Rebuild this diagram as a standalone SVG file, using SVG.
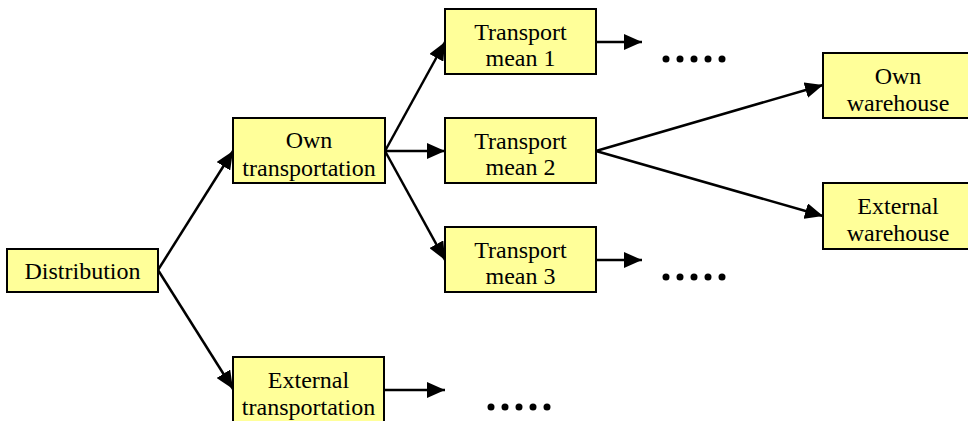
<svg xmlns="http://www.w3.org/2000/svg" width="968" height="421" viewBox="0 0 968 421">
  <style>
    .box { fill: #FFFF99; stroke: #000; stroke-width: 2; }
    .lbl { font-family: "Liberation Serif", "Times New Roman", serif; font-size: 24px; fill: #000; text-anchor: middle; }
    .edge { stroke: #000; stroke-width: 2.5; fill: none; marker-end: url(#head); }
    .dot { fill: #000; }
  </style>
  <defs>
    <marker id="head" markerUnits="userSpaceOnUse" viewBox="0 0 18 16" markerWidth="18" markerHeight="16" refX="18" refY="8" orient="auto">
      <path d="M0,0 L18,8 L0,16 Z" fill="#000"/>
    </marker>
    <g id="dots">
      <circle class="dot" cx="0" cy="0" r="3.5"/>
      <circle class="dot" cx="14" cy="0" r="3.5"/>
      <circle class="dot" cx="28" cy="0" r="3.5"/>
      <circle class="dot" cx="42" cy="0" r="3.5"/>
      <circle class="dot" cx="56" cy="0" r="3.5"/>
    </g>
  </defs>

  <rect width="968" height="421" fill="#fff"/>

  <!-- connectors -->
  <g id="connectors">
    <line class="edge" x1="158" y1="270" x2="233" y2="151"/>
    <line class="edge" x1="158" y1="270" x2="233" y2="389"/>
    <line class="edge" x1="385" y1="151" x2="445" y2="42"/>
    <line class="edge" x1="385" y1="151" x2="445" y2="151"/>
    <line class="edge" x1="385" y1="151" x2="445" y2="260"/>
    <line class="edge" x1="596" y1="42" x2="642" y2="42"/>
    <line class="edge" x1="596" y1="260" x2="642" y2="260"/>
    <line class="edge" x1="384" y1="390" x2="445" y2="390"/>
    <line class="edge" x1="596" y1="151" x2="823" y2="85"/>
    <line class="edge" x1="596" y1="151" x2="823" y2="216"/>
  </g>

  <!-- continuation marks -->
  <g id="more">
    <use href="#dots" x="666" y="59"/>
    <use href="#dots" x="666" y="277"/>
    <use href="#dots" x="491" y="407"/>
  </g>

  <g id="distribution">
    <rect class="box" x="7" y="249" width="151" height="43"/>
    <text class="lbl" x="82.5" y="279">Distribution</text>
  </g>

  <g id="own-transportation">
    <rect class="box" x="233" y="118" width="152" height="65"/>
    <text class="lbl" x="309" y="148">Own</text>
    <text class="lbl" x="309" y="176">transportation</text>
  </g>

  <g id="external-transportation">
    <rect class="box" x="233" y="357" width="151" height="66"/>
    <text class="lbl" x="308.5" y="388">External</text>
    <text class="lbl" x="308.5" y="415">transportation</text>
  </g>

  <g id="transport-mean-1">
    <rect class="box" x="445" y="9" width="151" height="65"/>
    <text class="lbl" x="520.5" y="40">Transport</text>
    <text class="lbl" x="520.5" y="66">mean 1</text>
  </g>

  <g id="transport-mean-2">
    <rect class="box" x="445" y="118" width="151" height="65"/>
    <text class="lbl" x="520.5" y="149">Transport</text>
    <text class="lbl" x="520.5" y="175">mean 2</text>
  </g>

  <g id="transport-mean-3">
    <rect class="box" x="445" y="227" width="151" height="65"/>
    <text class="lbl" x="520.5" y="258">Transport</text>
    <text class="lbl" x="520.5" y="284">mean 3</text>
  </g>

  <g id="own-warehouse">
    <rect class="box" x="823" y="53" width="151" height="65"/>
    <text class="lbl" x="898" y="84">Own</text>
    <text class="lbl" x="898" y="111">warehouse</text>
  </g>

  <g id="external-warehouse">
    <rect class="box" x="823" y="183" width="151" height="66"/>
    <text class="lbl" x="898" y="214">External</text>
    <text class="lbl" x="898" y="241">warehouse</text>
  </g>
</svg>
